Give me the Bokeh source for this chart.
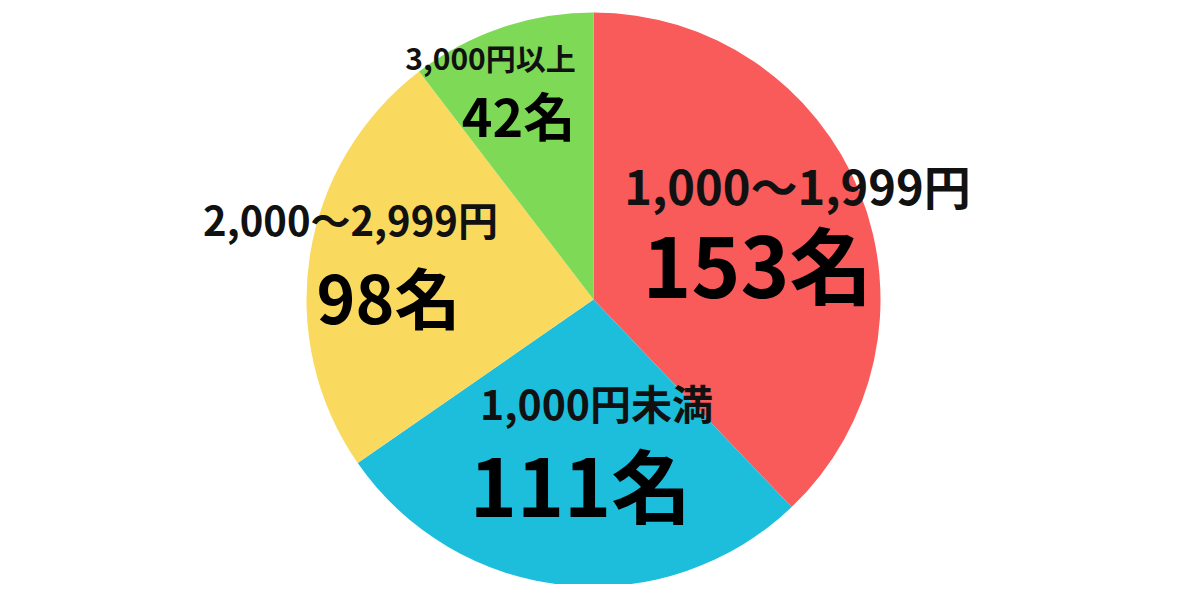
import math
from bokeh.plotting import figure
from bokeh.models import Range1d, ColumnDataSource
from bokeh.core.properties import value
from bokeh.embed import file_html
from bokeh.resources import INLINE

# ---- data ----
categories = ["1,000～1,999円", "1,000円未満", "2,000～2,999円", "3,000円以上"]
counts = [153, 111, 98, 42]
value_labels = ["153名", "111名", "98名", "42名"]
colors = ["#F95A5A", "#1DBEDB", "#FADA5E", "#7ED957"]

# ---- layout (figure pixels, origin bottom-left) ----
W, H = 1184, 584
cx, cy, R = 593, 285, 287
cat_pos = [(797, 400), (596, 183), (350, 366), (490, 528)]
val_pos = [(757, 323), (580, 103), (388, 290), (518, 470)]
cat_sizes = ["47px", "41px", "40px", "30px"]
val_sizes = ["83px", "80px", "66px", "52px"]

total = float(sum(counts))
starts, ends = [], []
cum = 0.0
for c in counts:
    starts.append(math.pi / 2 - 2 * math.pi * cum / total)
    cum += c
    ends.append(math.pi / 2 - 2 * math.pi * cum / total)

src = ColumnDataSource(dict(start=starts, end=ends, color=colors,
                            x=[cx] * len(counts), y=[cy] * len(counts)))

p = figure(width=W, height=H, output_backend="svg", toolbar_location=None,
           x_range=Range1d(0, W), y_range=Range1d(0, H), min_border=0)
p.axis.visible = False
p.xgrid.visible = False
p.ygrid.visible = False
p.outline_line_color = None
p.background_fill_color = "white"
p.border_fill_color = "white"

p.wedge(x="x", y="y", radius=R, start_angle="start", end_angle="end",
        direction="clock", fill_color="color", line_color=None, source=src)

font = value("Noto Sans CJK JP")
for i in range(len(counts)):
    p.text(x=[cat_pos[i][0]], y=[cat_pos[i][1]], text=[categories[i]],
           text_font=font, text_font_style="bold", text_font_size=cat_sizes[i],
           text_align="center", text_baseline="middle", text_color="#111111")
    p.text(x=[val_pos[i][0]], y=[val_pos[i][1]], text=[value_labels[i]],
           text_font=font, text_font_style="bold", text_font_size=val_sizes[i],
           text_align="center", text_baseline="middle", text_color="#000000")

open("out.html", "w").write(file_html(p, INLINE))
